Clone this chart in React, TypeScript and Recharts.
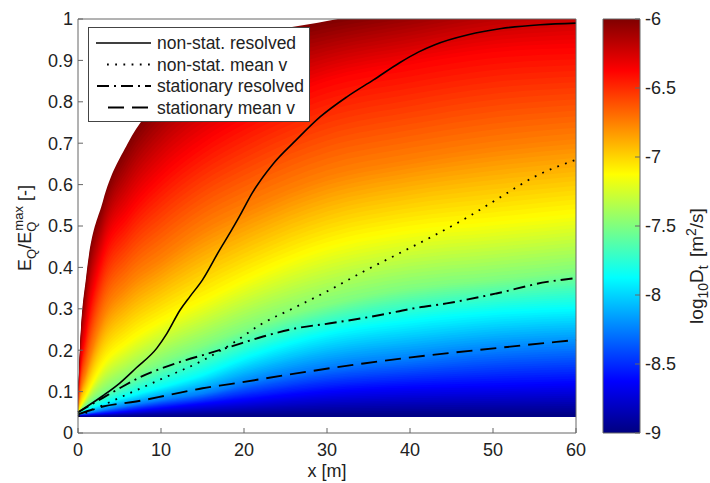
import React from 'react';
import { ComposedChart, Area, Line, XAxis, YAxis, Legend, BarChart, Bar, ReferenceLine } from 'recharts';

// colour field: y position of each jet colour level, read at these x values
const fieldX = [0, 0.25, 1, 3, 6, 10, 15, 20, 30, 40, 50, 60];
const FIELD_BOTTOM = 0.04;
const levelBlue = [0.041, 0.042, 0.043, 0.046, 0.052, 0.06, 0.07, 0.08, 0.1, 0.11, 0.115, 0.12];
const levelSky = [0.042, 0.044, 0.047, 0.055, 0.066, 0.08, 0.095, 0.12, 0.16, 0.18, 0.2, 0.21];
const levelCyan = [0.043, 0.047, 0.055, 0.07, 0.088, 0.11, 0.14, 0.18, 0.24, 0.27, 0.29, 0.3];
const levelGreen = [0.045, 0.052, 0.068, 0.097, 0.13, 0.17, 0.21, 0.25, 0.31, 0.35, 0.37, 0.39];
const levelYellow = [0.048, 0.06, 0.09, 0.165, 0.22, 0.27, 0.32, 0.37, 0.45, 0.49, 0.51, 0.53];
const levelOrange = [0.055, 0.09, 0.15, 0.28, 0.36, 0.42, 0.49, 0.54, 0.62, 0.66, 0.69, 0.71];
const levelRed = [0.065, 0.14, 0.25, 0.43, 0.53, 0.62, 0.7, 0.76, 0.85, 0.89, 0.92, 0.93];
const levelTop = [0.08, 0.21, 0.38, 0.56, 0.7, 0.81, 0.9, 0.95, 0.995, 1.03, 1.07, 1.1];

// lines
const solidX = [0, 3, 5, 7, 9.5, 10.7, 12.3, 13.5, 15, 17, 18.5, 19.5, 21, 23.5, 26.3, 29.2, 32.4, 35.6, 38.8, 41, 43, 47, 51, 55.7, 60];
const solidY = [0.05, 0.09, 0.12, 0.157, 0.205, 0.24, 0.297, 0.33, 0.37, 0.44, 0.49, 0.525, 0.58, 0.65, 0.708, 0.764, 0.812, 0.853, 0.895, 0.92, 0.938, 0.962, 0.977, 0.986, 0.99];
const dottedX = [0, 5, 10, 15, 18.5, 22, 26, 30, 34.4, 39, 43, 47, 51, 55, 60];
const dottedY = [0.04, 0.085, 0.13, 0.175, 0.215, 0.262, 0.302, 0.342, 0.39, 0.437, 0.478, 0.522, 0.571, 0.619, 0.66];
const dashDotX = [0, 3, 5, 7.5, 10.3, 13, 15.7, 18.3, 22.3, 26.3, 30.4, 36.4, 40.4, 44.4, 50.4, 56.5, 60];
const dashDotY = [0.05, 0.085, 0.108, 0.135, 0.158, 0.176, 0.192, 0.208, 0.233, 0.253, 0.265, 0.285, 0.301, 0.313, 0.337, 0.365, 0.374];
const dashedX = [0, 3, 7, 11, 15, 18.3, 26.3, 34.4, 42.4, 50.4, 60];
const dashedY = [0.045, 0.064, 0.076, 0.092, 0.108, 0.118, 0.144, 0.168, 0.188, 0.205, 0.225];

const xTicks = [0, 10, 20, 30, 40, 50, 60];
const yTicks = [0, 0.1, 0.2, 0.3, 0.4, 0.5, 0.6, 0.7, 0.8, 0.9, 1];
const cbTicks = [-9, -8.5, -8, -7.5, -7, -6.5, -6];
const colorbarData = [{ name: 'D', range: [-9, -6] }];

const AXIS = '#666';
const TEXT = '#222';
const FONT = '"Liberation Sans", Arial, Helvetica, sans-serif';

const series = [
  { name: 'non-stat. resolved', x: solidX, y: solidY, dash: undefined, width: 1.6, x0: 8 },
  { name: 'non-stat. mean v', x: dottedX, y: dottedY, dash: '1.8 6.4', width: 1.8, x0: 19 },
  { name: 'stationary resolved', x: dashDotX, y: dashDotY, dash: '12 5 2 5', width: 1.9, x0: 9 },
  { name: 'stationary mean v', x: dashedX, y: dashedY, dash: '16 8', width: 1.9, x0: 20 },
];

function jet(f: number) {
  const c = (v: number) => Math.round(255 * Math.max(0, Math.min(1, v)));
  return `rgb(${c(1.5 - Math.abs(4 * f - 3))},${c(1.5 - Math.abs(4 * f - 2))},${c(1.5 - Math.abs(4 * f - 1))})`;
}

// each colour band is split in thin sub-bands so the fill looks continuous
const levels = [levelBlue, levelSky, levelCyan, levelGreen, levelYellow, levelOrange, levelRed, levelTop];
const SUB = 16;
const fieldBands: { key: string; color: string }[] = [];
levels.forEach((_, k) => {
  for (let j = 1; j <= SUB; j++) {
    fieldBands.push({ key: `b${k}_${j}`, color: jet((k + (j - 0.5) / SUB) / levels.length) });
  }
});
const fieldRows = fieldX.map((x, i) => {
  const row: Record<string, number | number[]> = { x };
  let lower = FIELD_BOTTOM;
  levels.forEach((lev, k) => {
    const upper = lev[i];
    for (let j = 1; j <= SUB; j++) {
      row[`b${k}_${j}`] = [FIELD_BOTTOM, lower + ((upper - lower) * j) / SUB];
    }
    lower = upper;
  });
  return row;
});
const drawOrder = [...fieldBands].reverse();

const lineData = series.map((s) => s.x.map((x, i) => ({ x, y: s.y[i] })));

function LegendBox() {
  return (
    <svg width={222} height={95} style={{ display: 'block' }}>
      <rect x={0.5} y={0.5} width={221} height={94} fill="#fff" stroke="#444" />
      {series.map((s, i) => {
        const cy = 16 + i * 21.5;
        return (
          <g key={s.name}>
            <line x1={s.x0} x2={63} y1={cy} y2={cy} stroke="#000" strokeWidth={s.width} strokeDasharray={s.dash} />
            <text x={69} y={cy + 6} fontSize={17.5} fill={TEXT} fontFamily={FONT}>{s.name}</text>
          </g>
        );
      })}
    </svg>
  );
}

function YLabel() {
  return (
    <text x={31} y={228} transform="rotate(-90 31 228)" textAnchor="middle" fontSize={18} fill={TEXT} fontFamily={FONT}>
      E<tspan fontSize={13} dy={5}>Q</tspan>
      <tspan dy={-5}>/E</tspan>
      <tspan fontSize={13} dy={5}>Q</tspan>
      <tspan fontSize={13} dx={-9} dy={-13}>max</tspan>
      <tspan dy={8}> [-]</tspan>
    </text>
  );
}

function CbLabel() {
  return (
    <text x={123} y={266} transform="rotate(-90 123 266)" textAnchor="middle" fontSize={19} fill={TEXT} fontFamily={FONT}>
      log<tspan fontSize={14} dy={5}>10</tspan>
      <tspan dy={-5}>D</tspan>
      <tspan fontSize={14} dy={5}>t</tspan>
      <tspan dy={-5} dx={3}> [m</tspan>
      <tspan fontSize={14} dy={-7}>2</tspan>
      <tspan dy={7}>/s]</tspan>
    </text>
  );
}

export default function App() {
  const tickStyle = { fill: TEXT, fontSize: 18, fontFamily: FONT };
  return (
    <div style={{ position: 'absolute', left: 0, top: 0, width: 710, height: 483, background: '#fff' }}>
      <div style={{ position: 'absolute', left: 0, top: 0 }}>
        <ComposedChart width={590} height={483} data={fieldRows} margin={{ top: 19, right: 14, bottom: 0, left: 0 }}>
          <XAxis dataKey="x" type="number" domain={[0, 60]} ticks={xTicks} height={50} stroke={AXIS}
            tickSize={-5} tickMargin={15} tick={tickStyle}
            label={{ value: 'x [m]', position: 'insideBottom', offset: 6, fill: TEXT, fontSize: 18, fontFamily: FONT }} />
          <XAxis xAxisId="top" dataKey="x" type="number" orientation="top" domain={[0, 60]} ticks={xTicks} height={0}
            stroke={AXIS} tickSize={-5} tick={false} />
          <YAxis type="number" domain={[0, 1]} ticks={yTicks} allowDataOverflow width={78} stroke={AXIS}
            tickSize={-5} tickMargin={10} tick={tickStyle} label={{ content: YLabel }} />
          <YAxis yAxisId="right" orientation="right" type="number" domain={[0, 1]} ticks={yTicks} width={0}
            stroke={AXIS} tickSize={-5} tick={false} />
          {drawOrder.map((b) => (
            <Area key={b.key} dataKey={b.key} type="monotone" fill={b.color} fillOpacity={1} stroke="none"
              dot={false} activeDot={false} legendType="none" isAnimationActive={false} />
          ))}
          {series.map((s, i) => (
            <Line key={s.name} data={lineData[i]} dataKey="y" name={s.name} type="monotone" stroke="#000"
              strokeWidth={s.width} strokeDasharray={s.dash} dot={false} activeDot={false} isAnimationActive={false} />
          ))}
          <ReferenceLine y={1} stroke={AXIS} />
          <ReferenceLine x={60} stroke={AXIS} />
          <Legend layout="vertical" align="center" verticalAlign="middle" content={LegendBox}
            wrapperStyle={{ left: 88, top: 27, width: 222, height: 95 }} />
        </ComposedChart>
      </div>
      <div style={{ position: 'absolute', left: 580, top: 0 }}>
        <BarChart width={130} height={483} data={colorbarData} margin={{ top: 19, right: 0, bottom: 50, left: 23 }}
          barCategoryGap={0}>
          <defs>
            <linearGradient id="jetBar" x1="0" y1="1" x2="0" y2="0">
              <stop offset="0" stopColor="#000080" />
              <stop offset="0.125" stopColor="#0000ff" />
              <stop offset="0.375" stopColor="#00ffff" />
              <stop offset="0.625" stopColor="#ffff00" />
              <stop offset="0.875" stopColor="#ff0000" />
              <stop offset="1" stopColor="#800000" />
            </linearGradient>
          </defs>
          <XAxis dataKey="name" hide />
          <YAxis orientation="right" type="number" domain={[-9, -6]} ticks={cbTicks} width={70} axisLine={false}
            tickLine={{ stroke: AXIS }} tickSize={-5} tickMargin={10} tick={tickStyle} label={{ content: CbLabel }} />
          <Bar dataKey="range" fill="url(#jetBar)" stroke={AXIS} isAnimationActive={false} />
        </BarChart>
      </div>
    </div>
  );
}
